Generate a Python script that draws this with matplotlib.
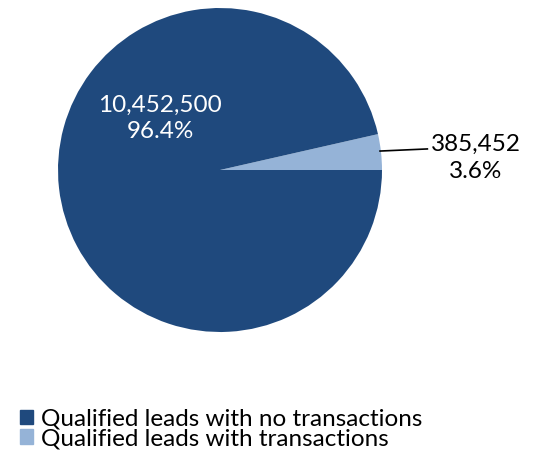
import matplotlib
matplotlib.use('Agg')
import matplotlib.pyplot as plt
from matplotlib.patches import Patch

plt.rcParams['font.family'] = ['Lato', 'DejaVu Sans']

categories = ['Qualified leads with no transactions', 'Qualified leads with transactions']
values = [10452500, 385452]
colors = ['#1F497D', '#95B3D7']

total = sum(values)
pcts = [v / total * 100 for v in values]

fig = plt.figure(figsize=(5.4, 4.59), dpi=100)
ax = fig.add_axes([58 / 540, (459 - 332) / 459, 324 / 540, 324 / 459])

# small slice first so it sits just above the horizontal at the right
ax.pie(values[::-1], colors=colors[::-1], startangle=0, counterclock=True,
       radius=1, wedgeprops={'linewidth': 0})
ax.set_xlim(-1, 1)
ax.set_ylim(-1, 1)
ax.set_aspect('equal')
ax.axis('off')

ax.text(-0.37, 0.32, f'{values[0]:,}\n{pcts[0]:.1f}%', color='white',
        ha='center', va='center', fontsize=17.5, linespacing=1.32)
ax.text(1.58, 0.075, f'{values[1]:,}\n{pcts[1]:.1f}%', color='black',
        ha='center', va='center', fontsize=17.5, linespacing=1.32, clip_on=False)
ax.plot([0.988, 1.28], [0.117, 0.13], color='black', lw=1.2, clip_on=False)

handles = [Patch(color=c) for c in colors]
fig.legend(handles, categories, loc='upper left', bbox_to_anchor=(0.037, 0.110),
           frameon=False, fontsize=17.5, handlelength=0.55, handleheight=0.55,
           handletextpad=0.33, labelspacing=-0.05, borderaxespad=0, borderpad=0)

fig.savefig('out.png', dpi=100)
